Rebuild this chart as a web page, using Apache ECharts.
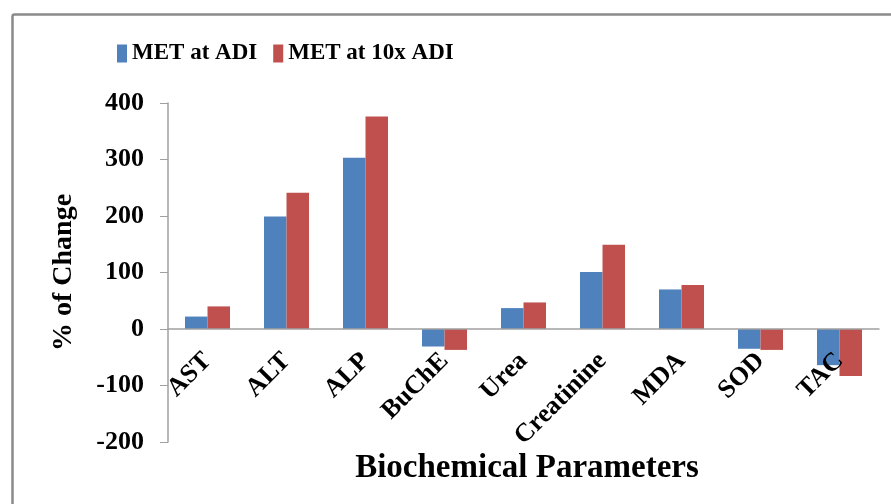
<!DOCTYPE html>
<html><head><meta charset="utf-8">
<script src="https://cdn.jsdelivr.net/npm/echarts@6/dist/echarts.min.js"></script>
<style>html,body{margin:0;padding:0;background:#fff}#c{width:891px;height:504px}</style>
</head><body><div id="c"></div>
<script>
const categories = ['AST','ALT','ALP','BuChE','Urea','Creatinine','MDA','SOD','TAC'];
const metAtADI = [22, 199, 303, -31, 37, 101, 70, -35, -64];
const metAt10xADI = [40, 241, 376, -37, 47, 149, 78, -37, -83];
const seriesNames = ['MET at ADI', 'MET at 10x ADI'];
const yTicks = {min: -200, max: 400, interval: 100};

const font = '"Liberation Serif","Times New Roman",serif';
const gridTop = 103, gridBottom = 62, chartH = 504;
const gridH = chartH - gridTop - gridBottom;
// place the category axis (line + labels) on the zero value
const zeroOffset = -((0 - yTicks.min) / (yTicks.max - yTicks.min)) * gridH;

const chart = echarts.init(document.getElementById('c'));
chart.setOption({
  animation: false,
  backgroundColor: '#fff',
  graphic: [{
    type: 'rect', left: 10, top: 12, silent: true,
    shape: {width: 900, height: 520, r: 2},
    style: {fill: 'none', stroke: '#8a8a8a', lineWidth: 2.5}
  }],
  title: {
    text: 'Biochemical Parameters', left: 522, top: 447, textAlign: 'center',
    textStyle: {fontFamily: font, fontWeight: 'bold', fontSize: 33, color: '#000'}
  },
  legend: {
    data: seriesNames, left: 112, top: 37, itemWidth: 10, itemHeight: 18, itemGap: 16,
    icon: 'rect',
    textStyle: {fontFamily: font, fontWeight: 'bold', fontSize: 23, color: '#000'}
  },
  grid: {left: 168, right: 12, top: gridTop, bottom: gridBottom, containLabel: false, outerBoundsMode: 'none'},
  xAxis: {
    type: 'category', data: categories, offset: zeroOffset, z: 5,
    axisLine: {onZero: false, lineStyle: {color: '#a0a0a0', width: 1.5}},
    axisTick: {show: false},
    axisLabel: {rotate: 45, interval: 0, margin: 28, fontFamily: font, fontWeight: 'bold', fontSize: 26, color: '#000'}
  },
  yAxis: {
    type: 'value', min: yTicks.min, max: yTicks.max, interval: yTicks.interval,
    name: '% of Change', nameLocation: 'middle', nameGap: 90, nameRotate: 90,
    nameTextStyle: {fontFamily: font, fontWeight: 'bold', fontSize: 28, color: '#000'},
    axisLine: {show: true, lineStyle: {color: '#a0a0a0', width: 1.5}},
    axisTick: {show: true, length: 8, lineStyle: {color: '#a0a0a0'}},
    splitLine: {show: false},
    axisLabel: {margin: 24, fontFamily: font, fontWeight: 'bold', fontSize: 26, color: '#000'}
  },
  series: [
    {name: seriesNames[0], type: 'bar', data: metAtADI, barGap: '0%', barCategoryGap: '43%',
     itemStyle: {color: '#4F81BD'}},
    {name: seriesNames[1], type: 'bar', data: metAt10xADI,
     itemStyle: {color: '#C0504D'}}
  ]
});
</script></body></html>
